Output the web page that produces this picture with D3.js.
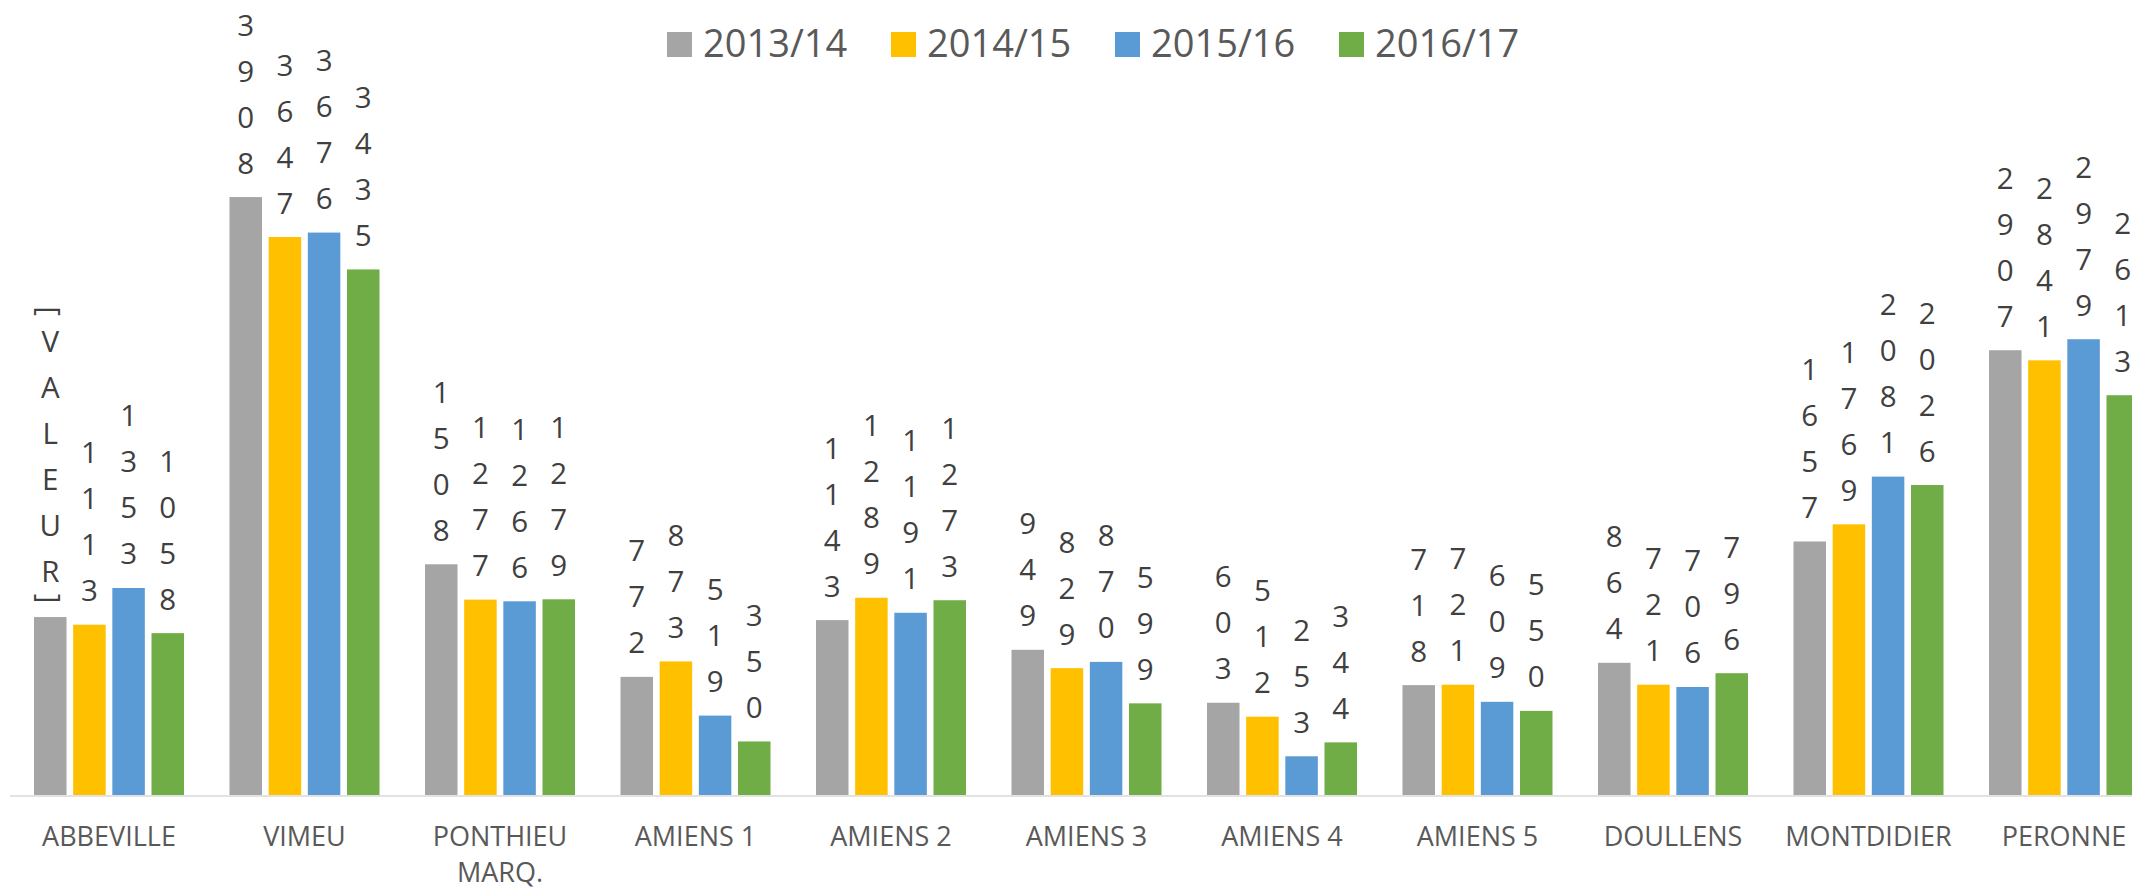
<!DOCTYPE html>
<html>
<head>
<meta charset="utf-8">
<script src="https://cdn.jsdelivr.net/npm/d3@7/dist/d3.min.js"></script>
<style>
  html, body { margin: 0; padding: 0; background: #fff; }
  svg { display: block; font-family: 'Open Sans', sans-serif; }
</style>
</head>
<body>
<div id="chart"></div>
<script>
const categories = ['ABBEVILLE', 'VIMEU', 'PONTHIEU MARQ.', 'AMIENS 1', 'AMIENS 2', 'AMIENS 3',
                    'AMIENS 4', 'AMIENS 5', 'DOULLENS', 'MONTDIDIER', 'PERONNE'];
const seriesNames = ['2013/14', '2014/15', '2015/16', '2016/17'];
const seriesColors = ['#a5a5a5', '#ffc000', '#5b9bd5', '#70ad47'];

const v2013 = [1163, 3908, 1508, 772, 1143, 949, 603, 718, 864, 1657, 2907];
const v2014 = [1113, 3647, 1277, 873, 1289, 829, 512, 721, 721, 1769, 2841];
const v2015 = [1353, 3676, 1266, 519, 1191, 870, 253, 609, 706, 2081, 2979];
const v2016 = [1058, 3435, 1279, 350, 1273, 599, 344, 550, 796, 2026, 2613];
const seriesValues = [v2013, v2014, v2015, v2016];

// the first label of the source chart shows Excel's placeholder instead of a number
const labelOverrides = { '2013/14|ABBEVILLE': '[VALEUR]' };

const W = 2132, H = 889;
const BASE_Y = 795;

const svg = d3.select('#chart').append('svg')
  .attr('width', W).attr('height', H)
  .attr('viewBox', `0 0 ${W} ${H}`);

// ── Scales ───────────────────────────────────────────────────────────────
const x0 = d3.scaleBand()
  .domain(categories)
  .range([11.25, 11.25 + 195.5 * categories.length])
  .paddingInner(0.2327)
  .paddingOuter(0.2327 / 2);

const x1 = d3.scaleBand()
  .domain(seriesNames)
  .range([0, x0.bandwidth()])
  .paddingInner(0.17);

const y = d3.scaleLinear().domain([0, 5000]).range([BASE_Y, BASE_Y - 765]);

// ── Bars ─────────────────────────────────────────────────────────────────
const rows = [];
seriesNames.forEach((s, si) => {
  categories.forEach((c, ci) => {
    rows.push({ series: s, si, cat: c, value: seriesValues[si][ci] });
  });
});

svg.append('g').selectAll('rect')
  .data(rows)
  .join('rect')
  .attr('x', d => x0(d.cat) + x1(d.series))
  .attr('y', d => y(d.value))
  .attr('width', x1.bandwidth())
  .attr('height', d => y(0) - y(d.value))
  .attr('fill', d => seriesColors[d.si]);

// category axis line
svg.append('line')
  .attr('x1', 10).attr('x2', W)
  .attr('y1', BASE_Y + 1).attr('y2', BASE_Y + 1)
  .attr('stroke', '#d9d9d9').attr('stroke-width', 1.5);

// ── Data labels: one character per line, stacked above the bar ──────────
const LINE = 46;
const labelG = svg.append('g')
  .attr('fill', '#404040')
  .attr('font-size', '29.5px');

rows.forEach(d => {
  const txt = labelOverrides[`${d.series}|${d.cat}`] ?? String(d.value);
  const cx = x0(d.cat) + x1(d.series) + x1.bandwidth() / 2;
  let cursor = y(d.value) - 23.5;
  const chars = txt.split('');
  for (let i = chars.length - 1; i >= 0; i--) {
    const ch = chars[i];
    if (ch === '[' || ch === ']') {
      // brackets are laid on their side in stacked text
      labelG.append('text')
        .attr('text-anchor', 'middle')
        .attr('dominant-baseline', 'central')
        .attr('transform', `translate(${cx},${cursor + 5}) rotate(90)`)
        .text(ch);
      cursor -= 11.5;
    } else {
      labelG.append('text')
        .attr('x', cx).attr('y', cursor)
        .attr('text-anchor', 'middle')
        .text(ch);
      cursor -= LINE;
    }
  }
});

// ── Category labels ──────────────────────────────────────────────────────
const catG = svg.append('g')
  .attr('fill', '#595959')
  .attr('font-size', '27px')
  .attr('text-anchor', 'middle');

categories.forEach(c => {
  const cx = x0(c) + x0.bandwidth() / 2;
  const t = catG.append('text').attr('x', cx).attr('y', 846);
  const words = c.split(' ');
  let lines = [c];
  t.text(c);
  if (t.node().getComputedTextLength() > 180) {
    lines = [];
    let cur = '';
    words.forEach(w => {
      const test = cur ? cur + ' ' + w : w;
      t.text(test);
      if (cur && t.node().getComputedTextLength() > 180) { lines.push(cur); cur = w; }
      else cur = test;
    });
    lines.push(cur);
  }
  t.text(null);
  lines.forEach((ln, i) => {
    t.append('tspan').attr('x', cx).attr('dy', i === 0 ? 0 : 36).text(ln);
  });
});

// ── Legend ───────────────────────────────────────────────────────────────
const legend = svg.append('g').selectAll('g')
  .data(seriesNames)
  .join('g')
  .attr('transform', (d, i) => `translate(${667 + i * 224},0)`);

legend.append('rect')
  .attr('x', 0).attr('y', 32)
  .attr('width', 25).attr('height', 25)
  .attr('fill', (d, i) => seriesColors[i]);

legend.append('text')
  .attr('x', 36).attr('y', 57)
  .attr('fill', '#595959')
  .attr('font-size', '38px')
  .text(d => d);
</script>
</body>
</html>
